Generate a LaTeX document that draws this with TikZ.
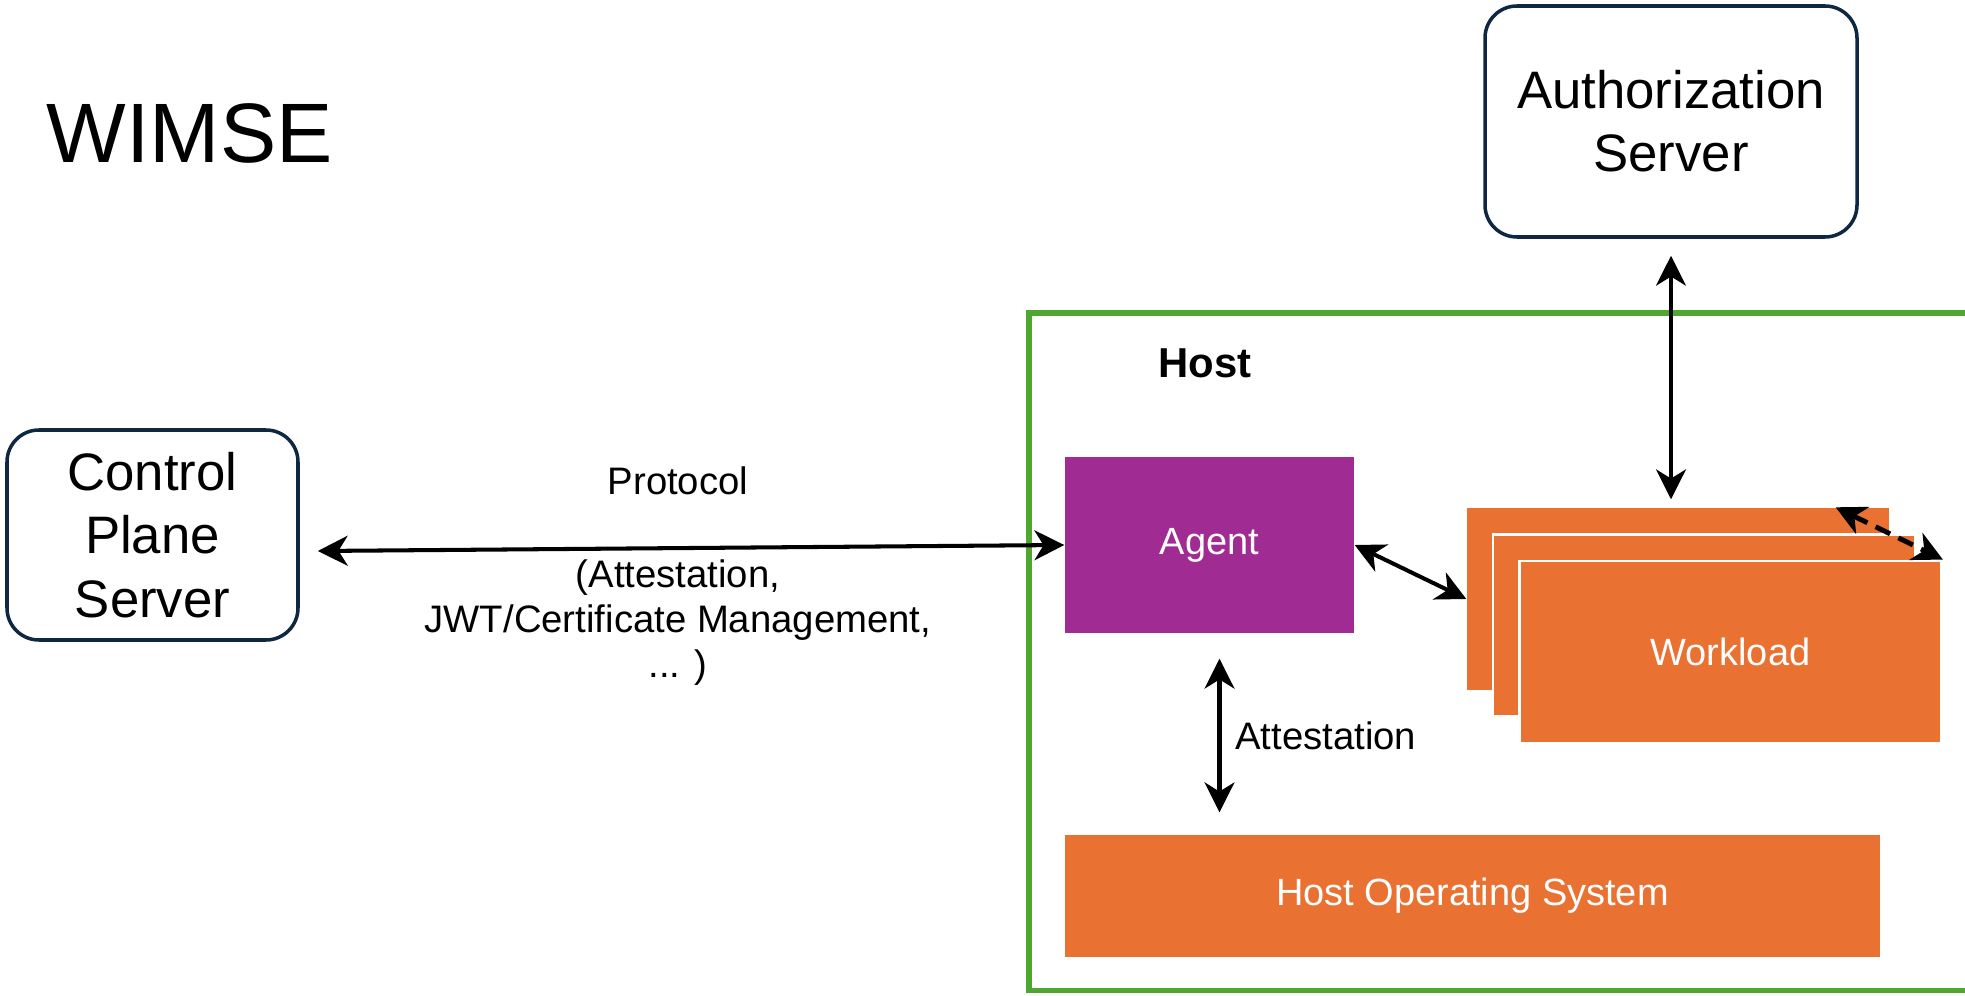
\documentclass[tikz,border=0pt]{standalone}
\usepackage{fontspec}
\setmainfont{Liberation Sans}
\usetikzlibrary{arrows.meta,calc,positioning}
\definecolor{navy}{HTML}{0E2841}
\definecolor{agentpurple}{HTML}{A02B93}
\definecolor{wlorange}{HTML}{E97132}
\definecolor{hostgreen}{HTML}{4EA72E}

\begin{document}
\begin{tikzpicture}[
    server/.style={draw=navy, line width=1pt, rounded corners=0.32cm, align=center, inner sep=0pt,
        font=\fontsize{15}{18}\selectfont},
    block/.style={fill=wlorange, text=white, inner sep=0pt, font=\fontsize{10.8}{13}\selectfont},
    conn/.style={line width=1.15pt,
        {Stealth[length=8.5pt,width=8.5pt,inset=2.6pt]}-{Stealth[length=8.5pt,width=8.5pt,inset=2.6pt]}},
    lbl/.style={font=\fontsize{10.9}{12.8}\selectfont, align=center}
]
            \useasboundingbox (0,0) rectangle (19.65,9.95);
            \draw [hostgreen, line width=1.5pt] (10.29,0.045) rectangle (20.2,6.82);
            \node [anchor=base west, inner sep=0pt, font=\fontsize{24}{28}\selectfont] (title) at (0.46,8.32) {WIMSE};
            \node [anchor=base west, inner sep=0pt, font=\bfseries\fontsize{11.9}{14}\selectfont] (hostlbl) at (11.58,6.18) {Host};
            \node [server, minimum width=3.72cm, minimum height=2.31cm] (auth) at (16.71,8.735) {Authorization\\Server};
            \node [server, minimum width=2.91cm, minimum height=2.10cm] (cps) at (1.525,4.60) {Control\\Plane\\Server};
            \node [block, fill=agentpurple, minimum width=2.89cm, minimum height=1.76cm] (agent) at (12.095,4.50) {Agent};
            \node [block, minimum width=8.15cm, minimum height=1.22cm] (hos) at (14.725,0.99) {Host Operating System};
            \node [block, minimum width=4.22cm, minimum height=1.82cm] (wl1) at (16.78,3.96) {};
            \node [block, draw=white, line width=0.8pt, minimum width=4.22cm, minimum height=1.82cm] (wl2) at (17.04,3.695) {};
            \node [block, draw=white, line width=0.8pt, minimum width=4.22cm, minimum height=1.82cm] (wl3) at (17.305,3.43) {Workload};
            \draw [conn] ([xshift=0.18cm,yshift=-0.16cm]cps.east) -- (agent.west);
            \node [lbl] (proto) at (6.78,5.14) {Protocol};
            \node [lbl] (protodetail) at (6.78,3.72) {(Attestation,\\JWT/Certificate Management,\\... )};
            \draw [conn] ([yshift=-0.17cm]auth.south) -- ([yshift=0.08cm]auth.south |- wl1.north);
            \draw [conn] (agent.east) -- (wl1.west);
            \draw [conn, line width=1.4pt, dash pattern=on 4.6pt off 2.6pt] ([xshift=-0.54cm]wl1.north east) -- (wl3.north east);
            \draw [conn] ([xshift=0.1cm,yshift=-0.25cm]agent.south) -- ([xshift=0.1cm,yshift=0.22cm]agent.south |- hos.north)
                node [lbl, midway, right=0.02cm] (attlbl) {Attestation};
\end{tikzpicture}
\end{document}
